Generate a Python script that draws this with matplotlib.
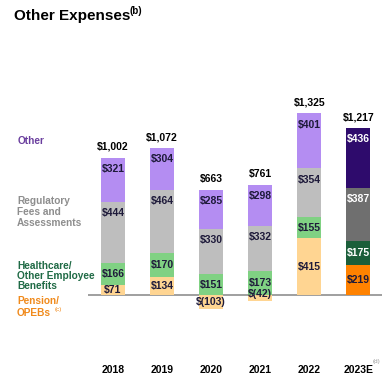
import matplotlib.pyplot as plt
import numpy as np

plt.rcParams['font.family'] = ['Liberation Sans', 'DejaVu Sans']

years = ['2018', '2019', '2020', '2021', '2022', '2023E']
pension = [71, 134, -103, -42, 415, 219]
healthcare = [166, 170, 151, 173, 155, 175]
regulatory = [444, 464, 330, 332, 354, 387]
other = [321, 304, 285, 298, 401, 436]
totals = ['$1,002', '$1,072', '$663', '$761', '$1,325', '$1,217']

# colours: actuals vs estimate
light = {'pension': '#FFD592', 'health': '#80D183', 'reg': '#BEBEBE', 'other': '#B48DF2'}
dark = {'pension': '#FF8200', 'health': '#1B5E3A', 'reg': '#6F6F6F', 'other': '#2E0B6C'}

W, H = 382, 390
fig = plt.figure(figsize=(W / 100, H / 100), dpi=100)


def fx(px):
    return px / W


def fy(py):
    return 1 - py / H


ax = fig.add_axes([fx(88), 60 / H, 294 / W, 230 / H])
ax.set_xlim(-0.51, 5.48)
ax.set_ylim(-255.5, 1423.4)
ax.axis('off')

lab_col = '#1E1A3A'


def fmt(v):
    return f'$({-v})' if v < 0 else f'${v}'


x = np.arange(len(years))
bw = 0.49
for i in x:
    est = years[i].endswith('E')
    cols = dark if est else light
    txt = 'white' if est else lab_col
    p = pension[i]
    # pension
    ax.bar(i, p, bw, color=cols['pension'], zorder=2)
    base = max(p, 0)
    ax.bar(i, healthcare[i], bw, bottom=base, color=cols['health'], zorder=2)
    b2 = base + healthcare[i]
    ax.bar(i, regulatory[i], bw, bottom=b2, color=cols['reg'], zorder=2)
    b3 = b2 + regulatory[i]
    ax.bar(i, other[i], bw, bottom=b3, color=cols['other'], zorder=2)
    top = b3 + other[i]

    kw = dict(ha='center', va='center', fontsize=7.5, fontweight='bold', zorder=3)
    # small negative value sits tucked under the healthcare label
    py = p / 2 + (30 if -60 < p < 0 else 0)
    ax.text(i, py, fmt(p), color=lab_col, **kw)
    ax.text(i, base + healthcare[i] / 2, fmt(healthcare[i]), color=txt, **kw)
    ax.annotate(fmt(regulatory[i]), (i, b3), xytext=(0, -8), textcoords='offset points',
                color=txt, **kw)
    ax.annotate(fmt(other[i]), (i, top), xytext=(0, -8), textcoords='offset points',
                color=txt, **kw)
    ax.annotate(totals[i], (i, top), xytext=(0, 8), textcoords='offset points',
                color='black', **kw)
    ax.annotate(years[i], (i, 0), xytext=(0, -54), textcoords='offset points',
                color='black', **kw)

ax.axhline(0, color='#8F8F8F', lw=1.2, zorder=1)

# title
fig.text(fx(14), fy(16), 'Other Expenses', fontsize=11, fontweight='bold',
         ha='left', va='center')
fig.text(fx(130), fy(11), '(b)', fontsize=7, fontweight='bold', ha='left', va='center')

# legend-like labels on the left
lk = dict(fontsize=7.3, fontweight='bold', ha='left', va='center', linespacing=1.15)
fig.text(fx(18), fy(141), 'Other', color='#6A3E9E', **lk)
fig.text(fx(17), fy(212), 'Regulatory\nFees and\nAssessments', color='#8E8E8E', **lk)
fig.text(fx(17), fy(276), 'Healthcare/\nOther Employee\nBenefits', color='#1F6A45',
         **dict(lk, linespacing=1.05))
fig.text(fx(17), fy(301), 'Pension/', color='#F08A1C', **lk)
fig.text(fx(17), fy(313), 'OPEBs', color='#F08A1C', **lk)
fig.text(fx(55), fy(310), '(c)', color='#F08A1C', fontsize=4.5, ha='left', va='center')
fig.text(fx(373), fy(361), '(d)', color='#999999', fontsize=4.5, ha='left', va='center')

fig.savefig('out.png', dpi=100)
